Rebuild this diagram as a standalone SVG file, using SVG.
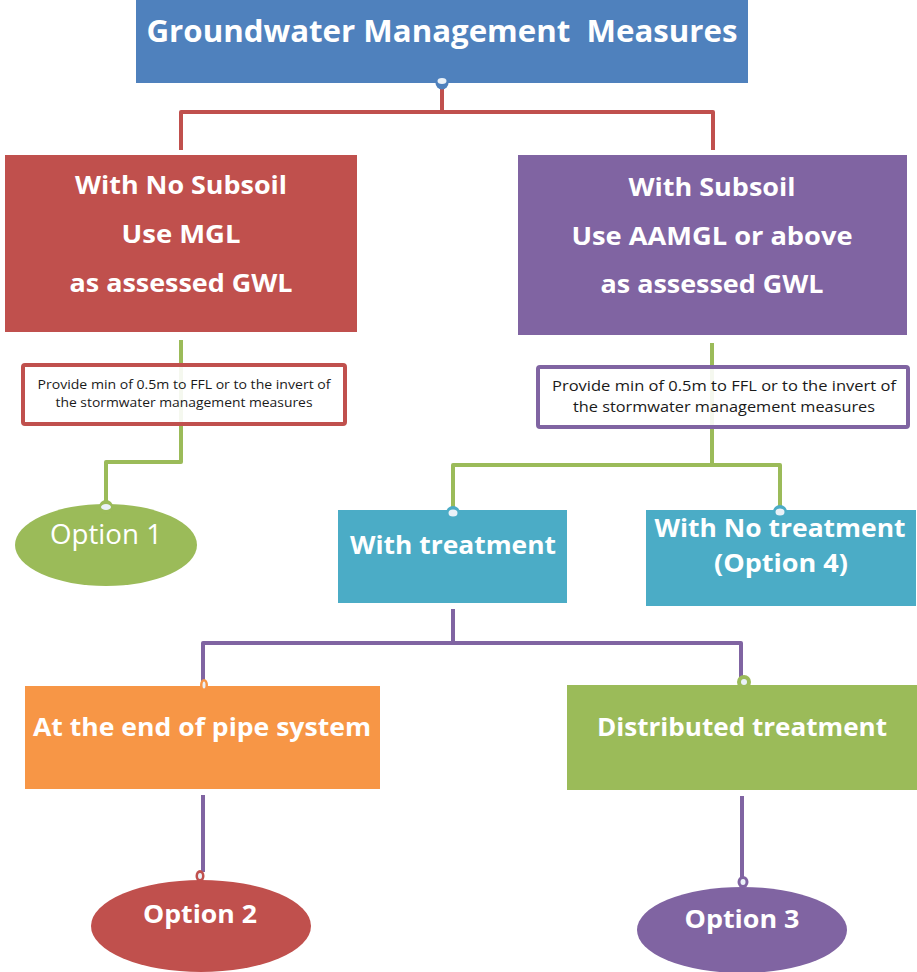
<svg xmlns="http://www.w3.org/2000/svg" width="917" height="972" viewBox="0 0 917 972">
  <style>
    .hd { font-family: "Open Sans", "Noto Sans", "Liberation Sans", sans-serif; font-weight: bold; fill: #ffffff; text-anchor: middle; }
    .nt { font-family: "Open Sans", "Noto Sans", "Liberation Sans", sans-serif; fill: #1a1a1a; text-anchor: middle; }
    .op { font-family: "Open Sans", "Noto Sans", "Liberation Sans", sans-serif; fill: #ffffff; text-anchor: middle; }
    .ln { fill: none; stroke-width: 4; stroke-linejoin: round; }
    .red { stroke: #C0504D; }
    .grn { stroke: #9BBB59; }
    .pur { stroke: #8064A2; }
    .dot { fill: #EAF1F8; }
  </style>
  <rect width="917" height="972" fill="#ffffff"/>

  <!-- connectors -->
  <g id="connectors">
    <path class="ln red" d="M442 84 V112 M181 150 V112 H713 V150"/>
    <path class="ln grn" d="M181 340 V462 H106 V503"/>
    <path class="ln grn" d="M712 343 V465 M453 508 V465 H780 V508"/>
    <path class="ln pur" d="M453 609 V643 M203 683 V643 H741 V680"/>
    <path class="ln pur" d="M203 795 V872 M742 796 V878"/>
  </g>

  <g id="root">
    <rect x="136" y="0" width="612" height="83" fill="#4F81BD"/>
    <text class="hd" x="442" y="42" font-size="30" xml:space="preserve" textLength="591" lengthAdjust="spacingAndGlyphs">Groundwater Management  Measures</text>
    <circle cx="442" cy="83" r="6.5" fill="#4F81BD"/>
    <ellipse class="dot" cx="442" cy="81" rx="4.5" ry="3"/>
  </g>

  <g id="no-subsoil">
    <rect x="5" y="155" width="352" height="177" fill="#C0504D"/>
    <text class="hd" x="181" y="194" font-size="25" textLength="212" lengthAdjust="spacingAndGlyphs">With No Subsoil</text>
    <text class="hd" x="181" y="243" font-size="25" textLength="119" lengthAdjust="spacingAndGlyphs">Use MGL</text>
    <text class="hd" x="181" y="292" font-size="25" textLength="223" lengthAdjust="spacingAndGlyphs">as assessed GWL</text>
  </g>

  <g id="subsoil">
    <rect x="518" y="155" width="389" height="180" fill="#8064A2"/>
    <text class="hd" x="712" y="196" font-size="25" textLength="167" lengthAdjust="spacingAndGlyphs">With Subsoil</text>
    <text class="hd" x="712" y="245" font-size="25" textLength="281" lengthAdjust="spacingAndGlyphs">Use AAMGL or above</text>
    <text class="hd" x="712" y="293" font-size="25" textLength="223" lengthAdjust="spacingAndGlyphs">as assessed GWL</text>
  </g>

  <g id="note-left">
    <rect x="23" y="365" width="322" height="59" fill="#ffffff" fill-opacity="0.9" stroke="#C0504D" stroke-width="4" rx="2"/>
    <text class="nt" x="184" y="389" font-size="12" textLength="293" lengthAdjust="spacingAndGlyphs">Provide min of 0.5m to FFL or to the invert of</text>
    <text class="nt" x="184" y="407" font-size="12" textLength="257" lengthAdjust="spacingAndGlyphs">the stormwater management measures</text>
  </g>

  <g id="note-right">
    <rect x="538" y="367" width="370" height="60" fill="#ffffff" fill-opacity="0.9" stroke="#8064A2" stroke-width="4" rx="2"/>
    <text class="nt" x="724" y="391" font-size="15" textLength="344" lengthAdjust="spacingAndGlyphs">Provide min of 0.5m to FFL or to the invert of</text>
    <text class="nt" x="724" y="412" font-size="15" textLength="302" lengthAdjust="spacingAndGlyphs">the stormwater management measures</text>
  </g>

  <g id="option1">
    <ellipse cx="106" cy="545" rx="91" ry="41" fill="#9BBB59"/>
    <circle cx="106" cy="507" r="7" fill="#9BBB59"/>
    <ellipse class="dot" cx="106" cy="507" rx="5" ry="3"/>
    <text class="op" x="106" y="544" font-size="27" textLength="112" lengthAdjust="spacingAndGlyphs">Option 1</text>
  </g>

  <g id="with-treatment">
    <rect x="338" y="510" width="229" height="93" fill="#4BACC6"/>
    <circle cx="453" cy="513" r="7" fill="#4BACC6"/>
    <ellipse class="dot" cx="453" cy="513" rx="4.5" ry="3.5"/>
    <text class="hd" x="453" y="554" font-size="25" textLength="206" lengthAdjust="spacingAndGlyphs">With treatment</text>
  </g>

  <g id="no-treatment">
    <rect x="646" y="510" width="270" height="96" fill="#4BACC6"/>
    <circle cx="780" cy="512" r="7" fill="#4BACC6"/>
    <ellipse class="dot" cx="780" cy="512" rx="4.5" ry="3.5"/>
    <text class="hd" x="780" y="537" font-size="25" textLength="251" lengthAdjust="spacingAndGlyphs">With No treatment</text>
    <text class="hd" x="781" y="572" font-size="25" textLength="134" lengthAdjust="spacingAndGlyphs">(Option 4)</text>
  </g>

  <g id="end-of-pipe">
    <rect x="25" y="686" width="355" height="103" fill="#F79646"/>
    <ellipse cx="204" cy="685" rx="4" ry="6" fill="#F79646"/>
    <ellipse class="dot" cx="204" cy="685" rx="1.5" ry="3.5"/>
    <text class="hd" x="202" y="736" font-size="25" textLength="338" lengthAdjust="spacingAndGlyphs">At the end of pipe system</text>
  </g>

  <g id="distributed">
    <rect x="567" y="685" width="350" height="105" fill="#9BBB59"/>
    <circle cx="744" cy="682" r="7" fill="#9BBB59"/>
    <circle class="dot" cx="744" cy="682" r="3"/>
    <text class="hd" x="742" y="736" font-size="25" textLength="290" lengthAdjust="spacingAndGlyphs">Distributed treatment</text>
  </g>

  <g id="option2">
    <ellipse cx="201" cy="926" rx="110" ry="46" fill="#C0504D"/>
    <ellipse cx="200" cy="876" rx="4.5" ry="6" fill="#C0504D"/>
    <ellipse class="dot" cx="200" cy="876" rx="2" ry="3"/>
    <text class="hd" x="200" y="923" font-size="25" textLength="114" lengthAdjust="spacingAndGlyphs">Option 2</text>
  </g>

  <g id="option3">
    <ellipse cx="742" cy="930" rx="105" ry="43" fill="#8064A2"/>
    <ellipse cx="743" cy="882" rx="5.5" ry="6" fill="#8064A2"/>
    <ellipse class="dot" cx="743" cy="882" rx="2.5" ry="3"/>
    <text class="hd" x="742" y="928" font-size="25" textLength="115" lengthAdjust="spacingAndGlyphs">Option 3</text>
  </g>
</svg>
